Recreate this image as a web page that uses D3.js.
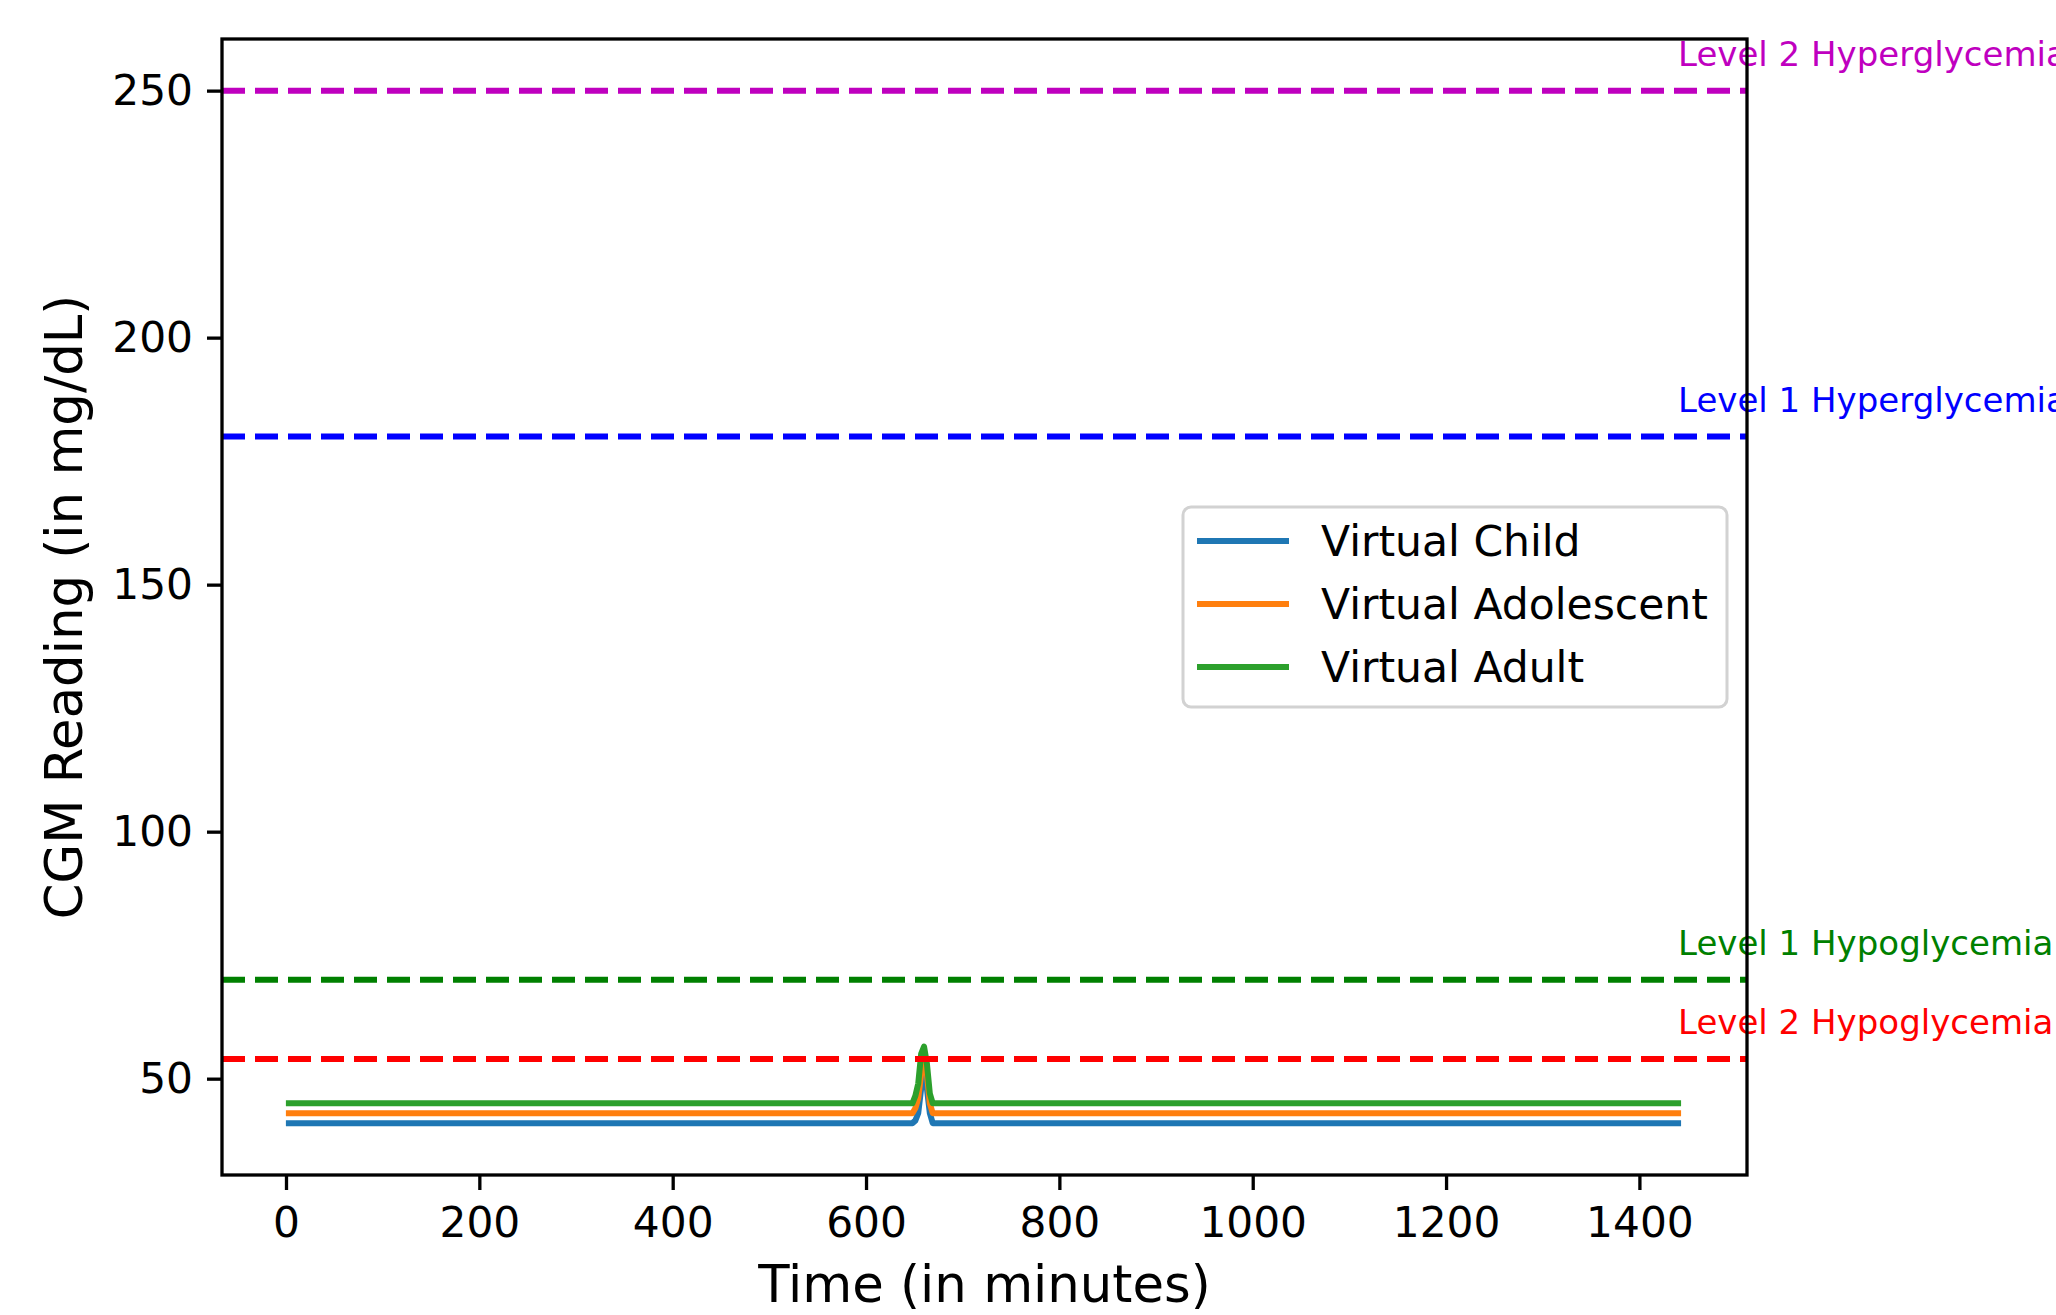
<!DOCTYPE html>
<html>
<head>
<meta charset="utf-8">
<script src="https://cdn.jsdelivr.net/npm/d3@7"></script>
<style>
  body { margin: 0; background: #fff; }
  svg text { font-family: "DejaVu Sans", sans-serif; }
</style>
</head>
<body>
<div id="chart"></div>
<script>
// Données (minutes / mg/dL)
const timeMin = [3, 645, 648, 651, 654, 657, 660, 663, 666, 669, 1440];
const childCGM = [41, 41, 41, 41.5, 43, 48, 51, 48, 43, 41, 41];
const adolescentCGM = [43, 43, 43, 44, 46, 51, 54, 51, 45, 43, 43];
const adultCGM = [45, 45, 45, 46.5, 49, 55, 56.5, 53, 47, 45, 45];

const seriesNames = ['Virtual Child', 'Virtual Adolescent', 'Virtual Adult'];
const seriesColors = ['#1f77b4', '#ff7f0e', '#2ca02c'];

const levelValues = [250, 180, 70, 54];
const levelLabels = ['Level 2 Hyperglycemia', 'Level 1 Hyperglycemia', 'Level 1 Hypoglycemia', 'Level 2 Hypoglycemia'];
const levelColors = ['#bf00bf', '#0000ff', '#008000', '#ff0000'];

const xTicks = [0, 200, 400, 600, 800, 1000, 1200, 1400];
const yTicks = [50, 100, 150, 200, 250];

// Dimensions
const width = 2056;
const height = 1315;
const plotLeft = 222, plotRight = 1747, plotTop = 39, plotBottom = 1175;

const svg = d3.select('#chart')
    .append('svg')
    .attr('width', width)
    .attr('height', height);

const x = d3.scaleLinear().domain([-66.2, 1511.3]).range([plotLeft, plotRight]);
const y = d3.scaleLinear().domain([30.5, 260.45]).range([plotBottom, plotTop]);

const plot = svg.append('g');

// Courbes CGM
const allSeries = [childCGM, adolescentCGM, adultCGM];
const line = d3.line()
    .x(d => x(d[0]))
    .y(d => y(d[1]));

allSeries.forEach((vals, i) => {
    plot.append('path')
        .datum(timeMin.map((t, k) => [t, vals[k]]))
        .attr('d', line)
        .attr('fill', 'none')
        .attr('stroke', seriesColors[i])
        .attr('stroke-width', 6)
        .attr('stroke-linecap', 'square')
        .attr('stroke-linejoin', 'round');
});

// Seuils (lignes pointillées) + étiquettes
levelValues.forEach((v, i) => {
    plot.append('line')
        .attr('x1', plotLeft).attr('x2', plotRight)
        .attr('y1', y(v)).attr('y2', y(v))
        .attr('stroke', levelColors[i])
        .attr('stroke-width', 6)
        .attr('stroke-dasharray', '23,10');

    svg.append('text')
        .attr('x', x(1440))
        .attr('y', y(v + 5))
        .attr('fill', levelColors[i])
        .style('font-size', '34px')
        .text(levelLabels[i]);
});

// Axes
const xAxis = svg.append('g')
    .attr('transform', `translate(0,${plotBottom})`)
    .call(d3.axisBottom(x).tickValues(xTicks).tickSize(15).tickPadding(17).tickFormat(d3.format('d')));

const yAxis = svg.append('g')
    .attr('transform', `translate(${plotLeft},0)`)
    .call(d3.axisLeft(y).tickValues(yTicks).tickSize(15).tickPadding(14).tickFormat(d3.format('d')));

[xAxis, yAxis].forEach(ax => {
    ax.select('.domain').remove();
    ax.selectAll('.tick line').attr('stroke', '#000').attr('stroke-width', 3.3);
    ax.selectAll('.tick text')
        .attr('fill', '#000')
        .style('font-size', '42.3px')
        .style('font-family', '"DejaVu Sans", sans-serif');
});

// Cadre
svg.append('rect')
    .attr('x', plotLeft).attr('y', plotTop)
    .attr('width', plotRight - plotLeft).attr('height', plotBottom - plotTop)
    .attr('fill', 'none')
    .attr('stroke', '#000')
    .attr('stroke-width', 3.3);

// Titres des axes
svg.append('text')
    .attr('x', (plotLeft + plotRight) / 2)
    .attr('y', 1302)
    .attr('text-anchor', 'middle')
    .style('font-size', '51.3px')
    .text('Time (in minutes)');

svg.append('text')
    .attr('transform', `translate(82,${(plotTop + plotBottom) / 2}) rotate(-90)`)
    .attr('text-anchor', 'middle')
    .style('font-size', '51.3px')
    .text('CGM Reading (in mg/dL)');

// Légende
const legend = svg.append('g');
legend.append('rect')
    .attr('x', 1183).attr('y', 507)
    .attr('width', 1727 - 1183).attr('height', 707 - 507)
    .attr('rx', 8).attr('ry', 8)
    .attr('fill', 'rgba(255,255,255,0.8)')
    .attr('stroke', '#d2d2d2')
    .attr('stroke-width', 3);

seriesNames.forEach((name, i) => {
    const ly = 541 + i * 63;
    legend.append('line')
        .attr('x1', 1197).attr('x2', 1289)
        .attr('y1', ly).attr('y2', ly)
        .attr('stroke', seriesColors[i])
        .attr('stroke-width', 6);
    legend.append('text')
        .attr('x', 1321)
        .attr('y', ly + 15)
        .style('font-size', '42.5px')
        .text(name);
});
</script>
</body>
</html>
